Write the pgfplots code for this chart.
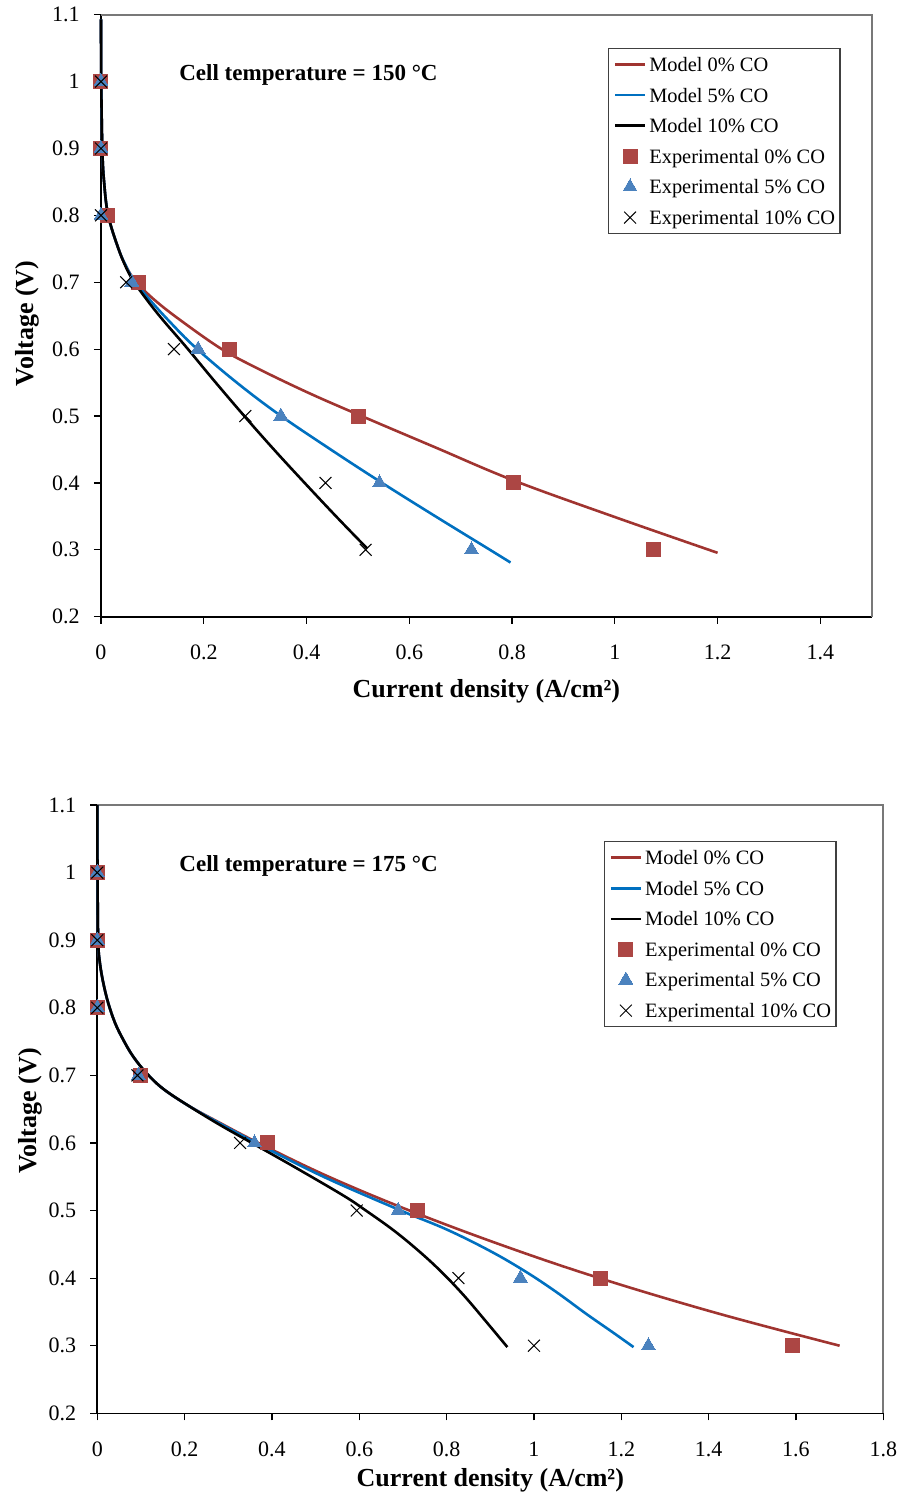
\documentclass[border=0pt]{standalone}
\usepackage{fontspec}
\setmainfont{Liberation Serif}
\usepackage{pgfplots}
\pgfplotsset{compat=1.18}

\definecolor{mred}{RGB}{160,52,48}
\definecolor{sred}{RGB}{172,70,68}
\definecolor{mblue}{RGB}{0,112,192}
\definecolor{sblue}{RGB}{75,130,190}
\definecolor{framegray}{RGB}{120,120,120}

\pgfplotsset{
  myleg/.style={legend image code/.code={\draw[mark repeat=2,mark phase=2,##1] plot coordinates {(0pt,0pt) (7.5pt,0pt) (15pt,0pt)};}},
  fcstyle/.style={
    scale only axis,
    axis lines=left,
    axis line style={-},
    x axis line style={black, line width=1.1pt},
    y axis line style={black, line width=1.1pt},
    tick align=outside,
    major tick length=3.5pt,
    tick style={black, line width=0.6pt},
    ymin=0.2, ymax=1.1,
    ytick={0.2,0.3,0.4,0.5,0.6,0.7,0.8,0.9,1,1.1},
    tick label style={font=\fontsize{11}{13}\selectfont},
    xticklabel style={yshift=-7.3pt},
    yticklabel style={xshift=-3.6pt},
    /pgf/number format/assume math mode=true,
    xlabel style={font=\bfseries\fontsize{13}{15}\selectfont, anchor=base},
    ylabel style={font=\bfseries\fontsize{13}{15}\selectfont, anchor=base},
    clip=false,
    legend cell align=left,
    legend style={draw=black!75, line width=0.7pt, font=\fontsize{10.2}{12}\selectfont,
      inner xsep=2.5pt, inner ysep=0.3pt, row sep=0pt,
      nodes={inner sep=0pt, text height=11.1pt, text depth=4.2pt},
      /tikz/every odd column/.append style={column sep=1.5pt}},
    mline/.style={line width=1.3pt, mark=none, smooth, tension=0.6},
  },
}

\begin{document}
\begin{tikzpicture}
\path[use as bounding box] (0,0) rectangle (449pt,747.5pt);

% ---------------- Top: 150 C ----------------
\begin{axis}[fcstyle,
  at={(50.5pt,439.15pt)}, anchor=south west,
  width=385.35pt, height=301pt,
  xmin=0, xmax=1.5,
  xtick={0,0.2,0.4,0.6,0.8,1,1.2,1.4},
  xlabel={Current density (A/cm²)},
  ylabel={Voltage (V)},
  xlabel style={at={(axis description cs:0.5,-0.135)}},
  ylabel style={at={(axis description cs:-0.0882,0.487)}},
  legend style={at={(0.96,0.9447)}, anchor=north east},
]
\draw[framegray, line width=0.9pt] (rel axis cs:0,1) -- (rel axis cs:1,1) -- (rel axis cs:1,0);
\addplot[mline, color=mred, myleg] coordinates {
 (0,1.093) (0.0005,1.0) (0.0025,0.9) (0.006,0.85) (0.014,0.8) (0.034,0.75) (0.05,0.722)
 (0.069,0.7) (0.105,0.673) (0.155,0.643) (0.233,0.601) (0.3,0.573) (0.4,0.536)
 (0.501,0.502) (0.651,0.453) (0.802,0.404) (1.0,0.349) (1.2,0.2955)};
\addlegendentry{Model 0\% CO}
\addplot[mline, color=mblue, myleg] coordinates {
 (0,1.093) (0.0005,1.0) (0.0025,0.9) (0.006,0.85) (0.014,0.8) (0.034,0.75) (0.05,0.722)
 (0.065,0.702) (0.097,0.672) (0.135,0.64) (0.183,0.603) (0.261,0.552) (0.345,0.503)
 (0.445,0.451) (0.545,0.401) (0.651,0.35) (0.757,0.3) (0.797,0.281)};
\addlegendentry{Model 5\% CO}
\addplot[mline, color=black, myleg] coordinates {
 (0,1.093) (0.0005,1.0) (0.0025,0.9) (0.006,0.85) (0.014,0.8) (0.034,0.75) (0.05,0.72)
 (0.06,0.705) (0.091,0.672) (0.12,0.644) (0.166,0.603) (0.22,0.553) (0.28,0.499)
 (0.34,0.447) (0.4,0.397) (0.46,0.348) (0.518,0.302)};
\addlegendentry{Model 10\% CO}
\addplot[only marks, mark=square*, mark size=3.5pt, mark options={fill=sred, draw=sred, line width=0pt}, myleg] coordinates {
 (0,1.0) (0,0.9) (0.012,0.8) (0.073,0.7) (0.25,0.6) (0.501,0.5) (0.802,0.4) (1.075,0.3)};
\addlegendentry{Experimental 0\% CO}
\addplot[only marks, mark=triangle*, mark size=4pt, mark options={fill=sblue, draw=sblue, line width=0pt}, myleg] coordinates {
 (0,1.0) (0,0.9) (0,0.8) (0.06,0.7) (0.189,0.6) (0.35,0.5) (0.542,0.4) (0.721,0.3)};
\addlegendentry{Experimental 5\% CO}
\addplot[only marks, mark=x, mark size=4.2pt, mark options={draw=black, line width=0.5pt}, myleg] coordinates {
 (0,1.0) (0,0.9) (0,0.8) (0.049,0.7) (0.142,0.6) (0.281,0.5) (0.437,0.4) (0.515,0.3)};
\addlegendentry{Experimental 10\% CO}
\node[anchor=base west, inner sep=0pt, font=\bfseries\fontsize{11.5}{13}\selectfont] at (rel axis cs:0.1012,0.8915) {Cell temperature = 150 °C};
\end{axis}

% ---------------- Bottom: 175 C ----------------
\begin{axis}[fcstyle,
  at={(48.65pt,40.85pt)}, anchor=south west,
  width=393pt, height=304.15pt,
  xmin=0, xmax=1.8,
  xtick={0,0.2,0.4,0.6,0.8,1,1.2,1.4,1.6,1.8},
  x axis line style={line width=0.7pt},
  xlabel={Current density (A/cm²)},
  ylabel={Voltage (V)},
  xlabel style={at={(axis description cs:0.5,-0.121)}},
  ylabel style={at={(axis description cs:-0.0779,0.497)}},
  legend style={at={(0.9407,0.9408)}, anchor=north east},
]
\draw[framegray, line width=0.9pt] (rel axis cs:0,1) -- (rel axis cs:1,1) -- (rel axis cs:1,0);
\addplot[mline, color=mred, myleg] coordinates {
 (0,1.1) (0.0005,1.0) (0.002,0.9) (0.006,0.866) (0.014,0.836) (0.025,0.807)
 (0.041,0.777) (0.06,0.752) (0.082,0.728) (0.113,0.703) (0.151,0.68) (0.209,0.655)
 (0.28,0.63) (0.375,0.598) (0.53,0.55) (0.715,0.5) (0.93,0.448) (1.15,0.4)
 (1.42,0.348) (1.7,0.3)};
\addlegendentry{Model 0\% CO}
\addplot[mline, color=mblue, myleg] coordinates {
 (0,1.1) (0.0005,1.0) (0.002,0.9) (0.006,0.866) (0.014,0.836) (0.025,0.807)
 (0.041,0.777) (0.06,0.752) (0.082,0.728) (0.113,0.703) (0.151,0.68) (0.209,0.655)
 (0.28,0.629) (0.37,0.598) (0.518,0.55) (0.695,0.5) (0.8,0.472) (0.9,0.44)
 (0.98,0.41) (1.05,0.38) (1.12,0.347) (1.18,0.32) (1.228,0.298)};
\addlegendentry{Model 5\% CO}
\addplot[mline, color=black, myleg] coordinates {
 (0,1.1) (0.0005,1.0) (0.002,0.9) (0.006,0.866) (0.014,0.836) (0.025,0.807)
 (0.041,0.777) (0.06,0.752) (0.082,0.728) (0.113,0.703) (0.151,0.68) (0.209,0.655)
 (0.28,0.627) (0.354,0.6) (0.45,0.565) (0.564,0.522) (0.615,0.5) (0.68,0.47)
 (0.74,0.438) (0.79,0.408) (0.84,0.374) (0.89,0.336) (0.939,0.298)};
\addlegendentry{Model 10\% CO}
\addplot[only marks, mark=square*, mark size=3.5pt, mark options={fill=sred, draw=sred, line width=0pt}, myleg] coordinates {
 (0,1.0) (0,0.9) (0,0.8) (0.1,0.7) (0.389,0.6) (0.734,0.5) (1.152,0.4) (1.592,0.3)};
\addlegendentry{Experimental 0\% CO}
\addplot[only marks, mark=triangle*, mark size=4pt, mark options={fill=sblue, draw=sblue, line width=0pt}, myleg] coordinates {
 (0,1.0) (0,0.9) (0,0.8) (0.094,0.7) (0.36,0.6) (0.689,0.5) (0.969,0.4) (1.262,0.3)};
\addlegendentry{Experimental 5\% CO}
\addplot[only marks, mark=x, mark size=4.2pt, mark options={draw=black, line width=0.5pt}, myleg] coordinates {
 (0,1.0) (0,0.9) (0,0.8) (0.092,0.7) (0.327,0.6) (0.594,0.5) (0.827,0.4) (1.0,0.3)};
\addlegendentry{Experimental 10\% CO}
\node[anchor=base west, inner sep=0pt, font=\bfseries\fontsize{11.5}{13}\selectfont] at (rel axis cs:0.104,0.8904) {Cell temperature = 175 °C};
\end{axis}
\end{tikzpicture}
\end{document}
